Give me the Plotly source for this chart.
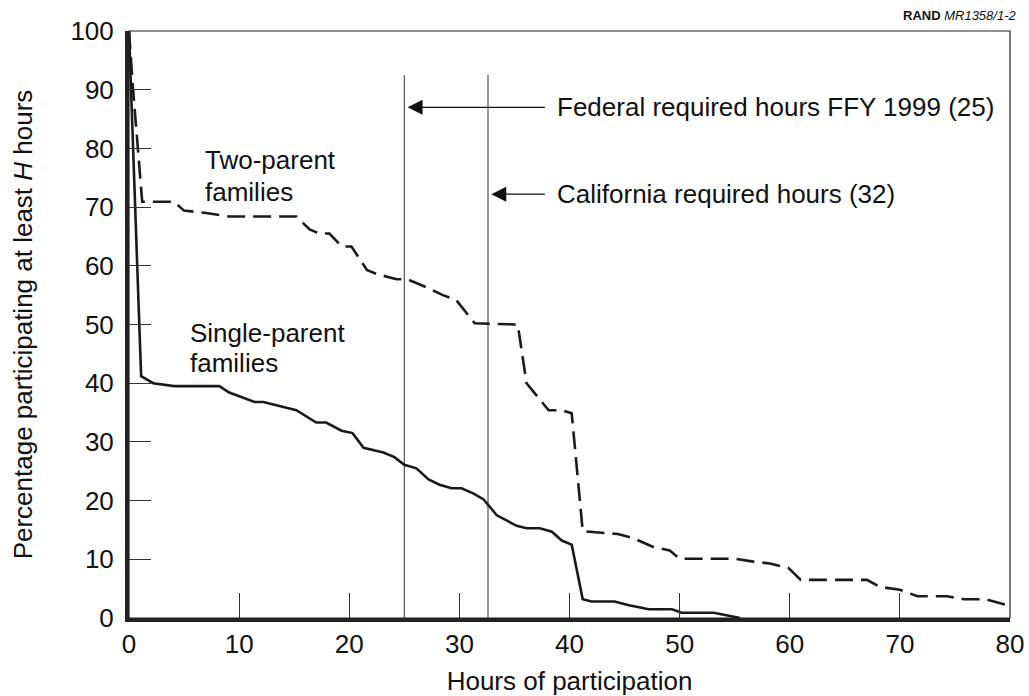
import plotly.graph_objects as go

# ---- data ----
single_hours = [0, 1.1, 2.2, 4.1, 8.2, 9.1, 11.4, 12.2, 15.2, 17.0, 17.9, 19.3, 20.3, 21.3,
                23.1, 24.1, 25.0, 26.1, 27.2, 28.2, 29.3, 30.2, 31.3, 32.2, 33.4, 35.2,
                36.1, 37.3, 38.4, 39.3, 40.2, 41.2, 42.0, 44.1, 45.3, 47.2, 49.3, 50.2,
                53.1, 54.3, 55.5]
single_pct = [100, 41.2, 40.0, 39.5, 39.5, 38.4, 36.8, 36.8, 35.4, 33.3, 33.3, 31.9, 31.5, 29.0,
              28.2, 27.4, 26.1, 25.5, 23.6, 22.7, 22.1, 22.1, 21.2, 20.2, 17.5, 15.7,
              15.3, 15.3, 14.7, 13.2, 12.5, 3.2, 2.8, 2.8, 2.2, 1.5, 1.5, 0.9,
              0.9, 0.5, 0]

two_hours = [0, 0.35, 1.2, 4.1, 5.0, 7.0, 9.1, 15.2, 16.4, 17.3, 18.2, 19.3, 20.2, 21.6,
             22.5, 24.3, 25.3, 27.2, 28.5, 29.7, 31.4, 35.3, 36.1, 38.1, 39.3, 40.2,
             41.2, 44.4, 45.8, 47.6, 49.1, 50.0, 55.0, 56.7, 58.2, 59.9, 61.0, 67.0,
             68.2, 70.0, 71.6, 74.3, 75.8, 77.8, 79.7]
two_pct = [100, 90.5, 70.9, 70.9, 69.4, 69.0, 68.4, 68.4, 66.2, 65.5, 65.5, 63.3, 63.3, 59.3,
           58.6, 57.7, 57.7, 56.2, 55.0, 54.2, 50.2, 50.0, 40.0, 35.4, 35.4, 34.9,
           14.8, 14.3, 13.6, 12.1, 11.5, 10.1, 10.1, 9.6, 9.3, 8.5, 6.5, 6.5,
           5.3, 4.8, 3.7, 3.7, 3.2, 3.2, 2.2]

required_hours = [25, 32.6]           # vertical reference lines
required_top = 92.5
required_labels = ["Federal required hours FFY 1999 (25)", "California required hours (32)"]
label_y = [87.0, 72.2]
label_x = 38.7

series_labels = ["Two-parent", "families", "Single-parent", "families"]
series_label_x = [6.7, 6.7, 5.35, 5.35]
series_label_y = [78.0, 72.6, 48.5, 43.4]

x_ticks = [0, 10, 20, 30, 40, 50, 60, 70, 80]
y_ticks = [0, 10, 20, 30, 40, 50, 60, 70, 80, 90, 100]

FONT = "Liberation Sans, Arial, Helvetica, sans-serif"

fig = go.Figure()

for xv in required_hours:
    fig.add_trace(go.Scatter(x=[xv, xv], y=[0, required_top], mode="lines",
                             line=dict(color="#333333", width=1), hoverinfo="skip",
                             showlegend=False))

fig.add_trace(go.Scatter(x=two_hours, y=two_pct, mode="lines", name="Two-parent families",
                         line=dict(color="#1a1a1a", width=2.6, dash="18px,8px"),
                         showlegend=False))
fig.add_trace(go.Scatter(x=single_hours, y=single_pct, mode="lines", name="Single-parent families",
                         line=dict(color="#1a1a1a", width=2.6), showlegend=False))

# border (top/right thin)
fig.add_shape(type="rect", xref="paper", yref="paper", x0=0, x1=1, y0=0, y1=1,
              line=dict(color="#222222", width=1.2), layer="above")

anns = []
for xv, yv, txt in zip(required_hours, label_y, required_labels):
    anns.append(dict(x=xv + 0.3, y=yv, ax=label_x - 0.8, ay=yv, xref="x", yref="y",
                     axref="x", ayref="y", text="", showarrow=True, arrowhead=2,
                     arrowsize=2.3, arrowwidth=1.3, arrowcolor="#111111"))
    anns.append(dict(x=label_x, y=yv, xref="x", yref="y", text=txt, showarrow=False,
                     xanchor="left", yanchor="middle",
                     font=dict(family=FONT, size=26, color="#111111")))

for xv, yv, txt in zip(series_label_x, series_label_y, series_labels):
    anns.append(dict(x=xv, y=yv, xref="x", yref="y", text=txt,
                     showarrow=False, xanchor="left", yanchor="middle", align="left",
                     font=dict(family=FONT, size=26, color="#111111")))

anns.append(dict(x=1, y=1, xref="paper", yref="paper", xanchor="right", yanchor="bottom",
                 yshift=6, xshift=8, showarrow=False,
                 text="<b>RAND</b> <i>MR1358/1-2</i>",
                 font=dict(family=FONT, size=13, color="#111111")))

fig.update_layout(
    width=1029, height=696,
    margin=dict(l=129, r=19, t=31, b=78),
    paper_bgcolor="white", plot_bgcolor="white",
    font=dict(family=FONT, size=26, color="#111111"),
    annotations=anns,
    xaxis=dict(range=[0, 80], tickvals=x_ticks, ticks="inside", ticklen=25,
               tickcolor="#333333", tickwidth=1, showgrid=False, zeroline=False,
               showline=True, linecolor="#222222", linewidth=4,
               ticklabelstandoff=0, automargin=False,
               title=dict(text="Hours of participation", standoff=16,
                          font=dict(family=FONT, size=26))),
    yaxis=dict(range=[0, 100], tickvals=y_ticks, ticks="inside", ticklen=22,
               tickcolor="#333333", tickwidth=1, showgrid=False, zeroline=False,
               showline=True, linecolor="#222222", linewidth=4,
               ticklabelstandoff=6, automargin=False,
               title=dict(text="Percentage participating at least <i>H</i> hours", standoff=31,
                          font=dict(family=FONT, size=26))),
)

fig.write_html("out.html", config={"displayModeBar": False},
               post_script="document.body.style.margin='0';")
